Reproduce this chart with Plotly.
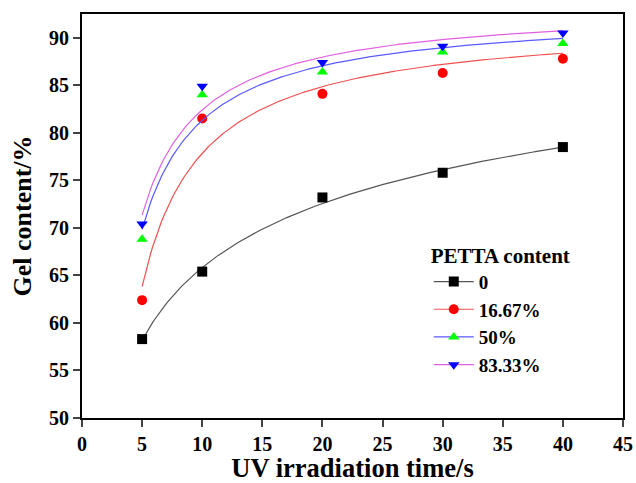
import numpy as np
import plotly.graph_objects as go

time_s = [5, 10, 20, 30, 40]
series_names = ["0", "16.67%", "50%", "83.33%"]
gel_0 = [58.3, 65.4, 73.2, 75.8, 78.5]
gel_16 = [62.4, 81.5, 84.1, 86.3, 87.8]
gel_50 = [68.8, 84.0, 86.4, 88.5, 89.4]
gel_83 = [70.4, 84.9, 87.4, 89.1, 90.5]

marker_colors = ["black", "red", "#00ff00", "blue"]
line_colors = ["#555555", "#f05050", "#5a5aff", "#e060e0"]
symbols = ["square", "circle", "triangle-up", "triangle-down"]


def power_fit(x, y):
    """Least-squares fit of y = A - B * x**(-p), 0 < p <= 1."""
    x = np.asarray(x, float)
    y = np.asarray(y, float)
    best = None
    for p in np.linspace(0.05, 1.0, 1000):
        M = np.column_stack([np.ones_like(x), -x ** (-p)])
        coef, *_ = np.linalg.lstsq(M, y, rcond=None)
        r = np.sum((M @ coef - y) ** 2)
        if best is None or r < best[0]:
            best = (r, coef, p)
    _, (a, b), p = best
    xs = np.linspace(x.min(), x.max(), 200)
    return xs, a - b * xs ** (-p)


fig = go.Figure()
for name, ys, mc, lc, sym in zip(series_names, [gel_0, gel_16, gel_50, gel_83],
                                 marker_colors, line_colors, symbols):
    xs, yf = power_fit(time_s, ys)
    fig.add_trace(go.Scatter(x=xs, y=yf, mode="lines", line=dict(color=lc, width=1.2),
                             showlegend=False, hoverinfo="skip"))
    fig.add_trace(go.Scatter(x=time_s, y=ys, mode="markers", name=name, showlegend=False,
                             marker=dict(symbol=sym, color=mc, size=10)))
    fig.add_trace(go.Scatter(x=[None], y=[None], mode="markers+lines", name=name,
                             marker=dict(symbol=sym, color=mc, size=10),
                             line=dict(color=lc, width=1.2)))

font = dict(family="Liberation Serif, Times New Roman, serif", color="black", weight="bold")
fig.update_layout(
    width=636, height=483,
    margin=dict(l=82, r=13, t=14, b=65),
    plot_bgcolor="white", paper_bgcolor="white",
    font=dict(**font, size=18),
    legend=dict(
        title=dict(text="PETTA content", font=dict(size=21, **font)),
        x=0.641, y=0.452, xanchor="left", yanchor="top",
        bgcolor="rgba(0,0,0,0)", font=dict(size=19, **font),
        itemwidth=40, tracegroupgap=0,
    ),
    xaxis=dict(
        range=[0, 45], tickvals=list(range(0, 50, 5)), automargin=False,
        ticks="outside", ticklen=7, tickwidth=1.5, showgrid=False, zeroline=False,
        showline=True, linecolor="black", linewidth=1.8, mirror=True,
        tickfont=dict(size=20, **font),
        title=dict(text="UV irradiation time/s", font=dict(size=26.5, **font), standoff=11),
    ),
    yaxis=dict(
        range=[50, 92.5], tickvals=list(range(50, 95, 5)), automargin=False,
        ticks="outside", ticklen=7, tickwidth=1.5, showgrid=False, zeroline=False,
        showline=True, linecolor="black", linewidth=1.8, mirror=True,
        tickfont=dict(size=20, **font),
        title=dict(text="Gel content/%", font=dict(size=26, **font), standoff=10),
    ),
)
fig.write_html("out.html")
